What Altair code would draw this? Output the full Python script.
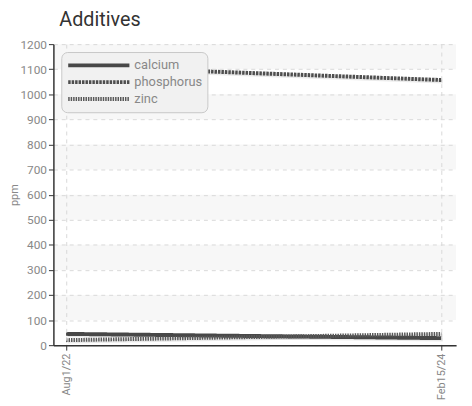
import altair as alt
import pandas as pd

series = ["calcium", "phosphorus", "zinc"]
dates = ["2022-08-01T00:00:00", "2024-02-15T00:00:00"]
calcium = [45, 28]
phosphorus = [1112, 1057]
zinc = [20, 45]
band_starts = [100, 300, 500, 700, 900, 1100]
band_ends = [200, 400, 600, 800, 1000, 1200]
y_ticks = [0, 100, 200, 300, 400, 500, 600, 700, 800, 900, 1000, 1100, 1200]
series_colors = ["#484848", "#4e4e4e", "#585858"]
series_dash = [[1, 0], [2.5, 1], [1.5, 1]]
series_width = [4, 4, 2.5]

rows = []
for name, vals in zip(series, [calcium, phosphorus, zinc]):
    for d, v in zip(dates, vals):
        rows.append({"date": d, "ppm": v, "series": name})
df = pd.DataFrame(rows)
bands_df = pd.DataFrame({"y0": band_starts, "y1": band_ends})

x_dom = [alt.DateTime(year=2022, month=7, date=13), alt.DateTime(year=2024, month=3, date=8)]
x_vals = [alt.DateTime(year=2022, month=8, date=1), alt.DateTime(year=2024, month=2, date=15)]

x_axis = alt.Axis(
    values=x_vals, format="%b%-d/%y", labelAngle=-90, title=None,
    grid=True, gridDash=[4, 4], gridColor="#d8d8d8",
    domainColor="#333", domainWidth=1.5, tickColor="#333", tickSize=5,
    labelColor="#888", labelFont="Roboto", labelFontSize=11, labelPadding=3,
    zindex=1,
)
x_scale = alt.Scale(domain=x_dom, nice=False)
y_scale = alt.Scale(domain=[0, 1200], nice=False)
y_axis = alt.Axis(
    values=y_ticks, format="d", labelOverlap=False, title="ppm", titleFont="Roboto", titleFontSize=11,
    titleColor="#888", titleFontWeight="normal", titleX=-34,
    grid=True, gridDash=[4, 4], gridColor="#d8d8d8",
    domainColor="#333", domainWidth=1.5, tickColor="#333", tickSize=5,
    labelColor="#888", labelFont="Roboto", labelFontSize=12, labelPadding=2,
    zindex=1,
)

bands = alt.Chart(bands_df).mark_rect(fill="#f7f7f7").encode(
    y=alt.Y("y0:Q", scale=y_scale, axis=y_axis),
    y2="y1:Q",
)

shadow = alt.Chart(df).mark_line(color="black", opacity=0.08, xOffset=1.5, yOffset=1.5, strokeWidth=4).encode(
    x=alt.X("date:T", scale=x_scale, axis=x_axis),
    y=alt.Y("ppm:Q", scale=y_scale, axis=y_axis),
    detail="series:N",
)

legend = alt.Legend(
    title=None, orient="top-left", offset=8, symbolType="stroke", symbolSize=3844,
    clipHeight=17, labelFontSize=13, labelColor="#888", labelFont="Roboto",
    fillColor="#f1f1f1", strokeColor="#c8c8c8", cornerRadius=6, padding=5,
    labelOffset=3, rowPadding=0, symbolOffset=0, zindex=2,
)

lines = alt.Chart(df).mark_line(strokeCap="butt").encode(
    x=alt.X("date:T", scale=x_scale, axis=x_axis),
    y=alt.Y("ppm:Q", scale=y_scale, axis=y_axis),
    color=alt.Color("series:N", scale=alt.Scale(domain=series, range=series_colors), legend=legend),
    strokeDash=alt.StrokeDash("series:N", scale=alt.Scale(domain=series, range=series_dash), legend=legend),
    strokeWidth=alt.StrokeWidth("series:O", scale=alt.Scale(domain=series, range=series_width), legend=legend),
)

chart = alt.layer(bands, shadow, lines).properties(
    width=408,
    height=305,
    title=alt.TitleParams("Additives", anchor="start", frame="group", dx=6, fontSize=20,
                          font="Roboto", color="#333", fontWeight="normal", offset=8),
    autosize=alt.AutoSizeParams(type="none"),
    padding={"left": 46, "top": 34, "right": 8, "bottom": 58},
).configure_view(stroke=None)

chart.save("out.html", embed_options={"renderer": "svg", "actions": False})
